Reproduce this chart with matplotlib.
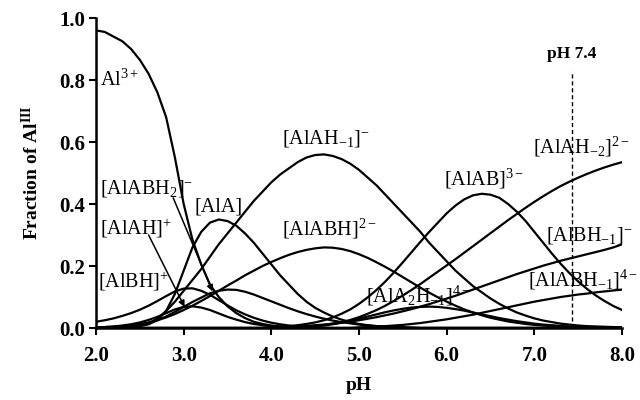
import matplotlib
matplotlib.use("Agg")
import matplotlib.pyplot as plt
import numpy as np

plt.rcParams["font.family"] = ["Liberation Serif", "DejaVu Serif"]
plt.rcParams["mathtext.fontset"] = "custom"
plt.rcParams["mathtext.rm"] = "Liberation Serif"
plt.rcParams["mathtext.it"] = "Liberation Serif:italic"
plt.rcParams["mathtext.bf"] = "Liberation Serif:bold"

# pH grid, 0.1 steps
ph = np.linspace(2.0, 8.0, 61)

al = [0.96, 0.955, 0.94, 0.925, 0.90, 0.865, 0.82, 0.76, 0.68, 0.55, 0.40,
      0.285, 0.205, 0.14, 0.10, 0.07, 0.048, 0.032, 0.02, 0.013, 0.008,
      0.005, 0.003, 0.002, 0.001] + [0.0] * 36

al_a = [0.0, 0.0, 0.001, 0.003, 0.004, 0.006, 0.012, 0.025, 0.055, 0.11,
        0.185, 0.26, 0.31, 0.34, 0.35, 0.345, 0.33, 0.305, 0.275, 0.24,
        0.205, 0.17, 0.14, 0.11, 0.085, 0.065, 0.05, 0.037, 0.027, 0.019,
        0.013, 0.009, 0.006, 0.004, 0.003, 0.002, 0.001] + [0.0] * 24

al_ah_m1 = [0.0, 0.0, 0.001, 0.002, 0.004, 0.008, 0.015, 0.03, 0.055, 0.085,
            0.12, 0.155, 0.19, 0.23, 0.27, 0.305, 0.34, 0.375, 0.41, 0.44,
            0.47, 0.495, 0.515, 0.535, 0.55, 0.558, 0.56, 0.555, 0.545, 0.53,
            0.51, 0.485, 0.46, 0.43, 0.40, 0.37, 0.34, 0.31, 0.275, 0.245,
            0.215, 0.185, 0.16, 0.135, 0.115, 0.095, 0.078, 0.063, 0.05, 0.04,
            0.031, 0.024, 0.019, 0.014, 0.011, 0.008, 0.006, 0.005, 0.004,
            0.003, 0.002]

al_abh = [0.002, 0.003, 0.004, 0.006, 0.009, 0.013, 0.018, 0.025, 0.034,
          0.045, 0.058, 0.072, 0.087, 0.103, 0.12, 0.137, 0.153, 0.17, 0.185,
          0.20, 0.213, 0.225, 0.236, 0.245, 0.252, 0.257, 0.26, 0.259, 0.255,
          0.248, 0.238, 0.226, 0.212, 0.197, 0.181, 0.164, 0.147, 0.13, 0.114,
          0.099, 0.085, 0.072, 0.06, 0.05, 0.041, 0.033, 0.027, 0.021, 0.017,
          0.013, 0.01, 0.008, 0.006, 0.005, 0.004, 0.003, 0.002, 0.002,
          0.001, 0.001, 0.001]

al_bh = [0.02, 0.025, 0.031, 0.039, 0.048, 0.059, 0.072, 0.087, 0.103, 0.118,
         0.127, 0.128, 0.12, 0.107, 0.09, 0.073, 0.057, 0.044, 0.033, 0.024,
         0.017, 0.012, 0.008, 0.005, 0.003, 0.002, 0.001] + [0.0] * 34

al_ah = [0.002, 0.003, 0.005, 0.008, 0.012, 0.018, 0.026, 0.036, 0.048, 0.06,
         0.068, 0.07, 0.066, 0.058, 0.047, 0.036, 0.027, 0.019, 0.013, 0.009,
         0.006, 0.004, 0.002, 0.001] + [0.0] * 37

al_abh2 = [0.001, 0.001, 0.002, 0.004, 0.006, 0.01, 0.016, 0.025, 0.037,
           0.052, 0.068, 0.084, 0.098, 0.112, 0.12, 0.124, 0.123, 0.117,
           0.108, 0.097, 0.086, 0.075, 0.064, 0.054, 0.045, 0.037, 0.03,
           0.024, 0.019, 0.015, 0.011, 0.008, 0.006, 0.004, 0.003, 0.002,
           0.001] + [0.0] * 24

al_a2h_m1 = [0.0] * 23 + [
    0.002, 0.003, 0.005, 0.008, 0.012, 0.017, 0.023, 0.03, 0.037, 0.044,
    0.051, 0.057, 0.062, 0.066, 0.068, 0.069, 0.068, 0.065, 0.061, 0.056,
    0.05, 0.044, 0.038, 0.032, 0.027, 0.022, 0.018, 0.014, 0.011, 0.009,
    0.007, 0.005, 0.004, 0.003, 0.002, 0.002, 0.001, 0.001]

al_ab = [0.0] * 20 + [
    0.003, 0.004, 0.006, 0.009, 0.013, 0.018, 0.025, 0.034, 0.046, 0.06,
    0.078, 0.099, 0.123, 0.15, 0.18, 0.212, 0.245, 0.278, 0.31, 0.34,
    0.37, 0.395, 0.415, 0.428, 0.433, 0.43, 0.42, 0.40, 0.375, 0.345,
    0.31, 0.275, 0.24, 0.207, 0.177, 0.15, 0.126, 0.105, 0.087, 0.071,
    0.058]

al_ah_m2 = [0.0] * 22 + [
    0.002, 0.003, 0.005, 0.007, 0.01, 0.014, 0.019, 0.026, 0.035, 0.046,
    0.058, 0.072, 0.088, 0.105, 0.123, 0.142, 0.162, 0.182, 0.202, 0.222,
    0.243, 0.264, 0.285, 0.306, 0.327, 0.348, 0.368, 0.388, 0.407, 0.425,
    0.442, 0.458, 0.472, 0.485, 0.497, 0.508, 0.518, 0.527, 0.535]

al_bh_m1 = [0.0] * 20 + [
    0.002, 0.003, 0.004, 0.005, 0.007, 0.009, 0.011, 0.014, 0.017, 0.021,
    0.025, 0.03, 0.035, 0.041, 0.047, 0.054, 0.061, 0.069, 0.077, 0.086,
    0.095, 0.104, 0.114, 0.124, 0.134, 0.144, 0.154, 0.164, 0.174, 0.183,
    0.192, 0.201, 0.209, 0.217, 0.224, 0.231, 0.238, 0.245, 0.252, 0.26,
    0.27]

al_abh_m1 = [0.0] * 30 + [
    0.002, 0.003, 0.004, 0.006, 0.008, 0.01, 0.013, 0.016, 0.02, 0.024,
    0.028, 0.033, 0.038, 0.043, 0.049, 0.055, 0.061, 0.067, 0.073, 0.079,
    0.085, 0.09, 0.095, 0.1, 0.104, 0.108, 0.111, 0.115, 0.118, 0.121,
    0.124]

series = [al, al_a, al_ah_m1, al_abh, al_bh, al_ah, al_abh2, al_a2h_m1,
          al_ab, al_ah_m2, al_bh_m1, al_abh_m1]

# species labels: (text, pH, fraction)
labels = [
    (r"Al$^{3+}$", 2.05, 0.80),
    (r"[AlABH$_2$]$^{-}$", 2.04, 0.45),
    (r"[AlA]", 3.12, 0.39),
    (r"[AlAH]$^{+}$", 2.04, 0.32),
    (r"[AlBH]$^{+}$", 2.02, 0.15),
    (r"[AlAH$_{-1}$]$^{-}$", 4.12, 0.61),
    (r"[AlABH]$^{2-}$", 4.12, 0.32),
    (r"[AlA$_2$H$_{-1}$]$^{4-}$", 5.08, 0.105),
    (r"[AlAB]$^{3-}$", 5.97, 0.48),
    (r"[AlAH$_{-2}$]$^{2-}$", 6.98, 0.585),
    (r"[AlBH$_{-1}$]$^{-}$", 7.13, 0.30),
    (r"[AlABH$_{-1}$]$^{4-}$", 6.93, 0.155),
]

fig = plt.figure(figsize=(6.4, 4.0), dpi=100)
ax = fig.add_axes([0.15, 0.18, 0.822, 0.775])

for ys in series:
    ax.plot(ph, ys, color="black", lw=1.6, solid_joinstyle="round")

for text, x, y in labels:
    ax.text(x, y, text, fontsize=14.5, va="center", ha="left")

# arrows from the crowded low-pH labels
ax.annotate("", xy=(3.01, 0.068), xytext=(2.6, 0.30),
            arrowprops=dict(arrowstyle="-|>", color="black", lw=1.1,
                            mutation_scale=9, shrinkA=0, shrinkB=0))
ax.annotate("", xy=(3.33, 0.118), xytext=(2.88, 0.42),
            arrowprops=dict(arrowstyle="-|>", color="black", lw=1.1,
                            mutation_scale=9, shrinkA=0, shrinkB=0))

# physiological pH marker
ax.plot([7.43, 7.43], [0.0, 0.83], color="black", lw=1.0, ls=(0, (3, 2)))
ax.text(7.43, 0.885, "pH 7.4", fontsize=12.5, ha="center", va="center",
        fontweight="bold")

ax.set_xlim(2.0, 8.0)
ax.set_ylim(0.0, 1.0)
ax.set_xticks([2, 3, 4, 5, 6, 7, 8])
ax.set_xticklabels(["2.0", "3.0", "4.0", "5.0", "6.0", "7.0", "8.0"])
ax.set_yticks([0.0, 0.2, 0.4, 0.6, 0.8, 1.0])
ax.set_yticklabels(["0.0", "0.2", "0.4", "0.6", "0.8", "1.0"])
ax.tick_params(direction="out", length=5, width=1.5, labelsize=15)
ax.tick_params(axis="x", pad=8)
ax.tick_params(axis="y", pad=3)
for lab in ax.get_xticklabels() + ax.get_yticklabels():
    lab.set_fontweight("bold")

for side in ("top", "right"):
    ax.spines[side].set_visible(False)
for side in ("left", "bottom"):
    ax.spines[side].set_linewidth(1.8)

ax.set_xlabel("pH", fontsize=14, fontweight="bold", labelpad=8)
ax.set_ylabel(r"Fraction of Al$^{\mathbf{III}}$", fontsize=14,
              fontweight="bold", labelpad=12)

fig.savefig("out.png", dpi=100)
